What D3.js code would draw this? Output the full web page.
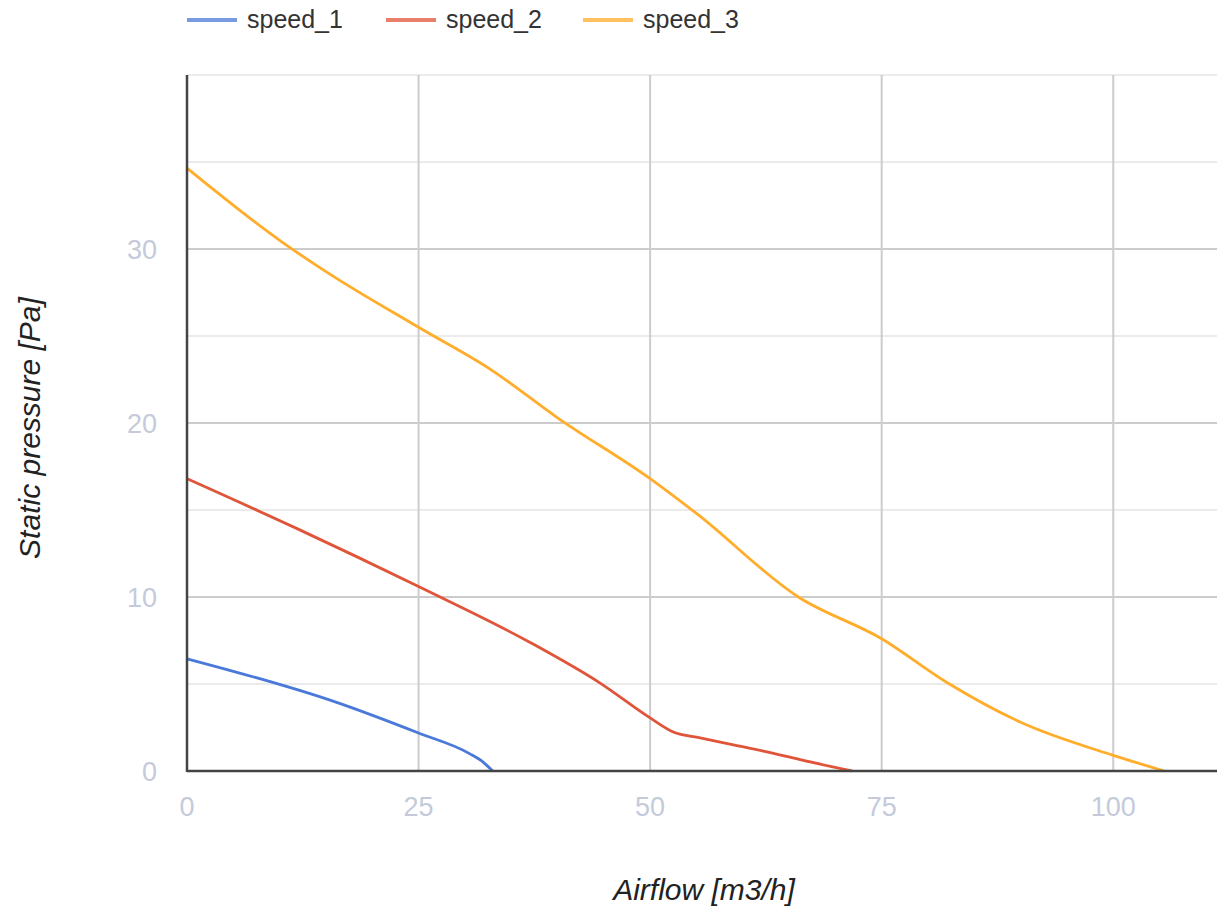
<!DOCTYPE html>
<html><head><meta charset="utf-8">
<script src="https://cdn.jsdelivr.net/npm/d3@7"></script>
<style>body{margin:0;background:#fff;font-family:Arial,"Liberation Sans",sans-serif;}</style>
</head><body><svg id="c" width="1221" height="915"></svg>
<script>
const seriesNames = ["speed_1","speed_2","speed_3"];
const seriesColors = ["#4a79d9","#e0553a","#ffad2b"];
const speed1 = [[0,6.45],[16,3.97],[25,2.18],[30.5,1.0],[32,0.5],[33,0]];
const speed2 = [[0,16.8],[12,13.9],[25,10.6],[37,7.4],[44.6,5.05],[50,3.05],[52.5,2.24],[55.4,1.9],[59,1.5],[62.6,1.1],[66.2,0.65],[71.8,0]];
const speed3 = [[0,34.65],[10,30.5],[15,28.7],[25,25.5],[33,23.0],[40,20.3],[50,16.8],[55,14.8],[66,10.0],[75,7.6],[82,5.1],[90,2.8],[100,0.9],[105.5,0]];
const xTicks = [0,25,50,75,100];
const yTicks = [0,10,20,30];
const yMinor = [5,15,25,35,40];
const xTitle = "Airflow [m3/h]";
const yTitle = "Static pressure [Pa]";

const svg = d3.select("#c");
const L=187,R=1217,T=75,B=771;
const x = d3.scaleLinear().domain([0,111.2]).range([L,R]);
const y = d3.scaleLinear().domain([0,40]).range([B,T]);

svg.append("g").selectAll("line").data(yMinor).join("line")
  .attr("x1",L).attr("x2",R).attr("y1",d=>y(d)).attr("y2",d=>y(d))
  .attr("stroke","#ebebeb").attr("stroke-width",2);
svg.append("g").selectAll("line").data(yTicks.filter(d=>d>0)).join("line")
  .attr("x1",L).attr("x2",R).attr("y1",d=>y(d)).attr("y2",d=>y(d))
  .attr("stroke","#cccccc").attr("stroke-width",2);
svg.append("g").selectAll("line").data(xTicks.filter(d=>d>0)).join("line")
  .attr("x1",d=>x(d)).attr("x2",d=>x(d)).attr("y1",T).attr("y2",B)
  .attr("stroke","#cccccc").attr("stroke-width",2);

svg.append("g").selectAll("text").data(xTicks).join("text")
  .attr("x",d=>x(d)).attr("y",816).attr("text-anchor","middle")
  .attr("font-size",27).attr("fill","#c5cadb").text(d=>d);
svg.append("g").selectAll("text").data(yTicks).join("text")
  .attr("x",157).attr("y",d=>y(d)+10).attr("text-anchor","end")
  .attr("font-size",27).attr("fill","#c5cadb").text(d=>d);

const data=[speed1,speed2,speed3];
const line=d3.line().x(d=>x(d[0])).y(d=>y(d[1])).curve(d3.curveMonotoneX);
svg.append("g").selectAll("path").data(data).join("path")
  .attr("d",line).attr("fill","none")
  .attr("stroke",(d,i)=>seriesColors[i]).attr("stroke-width",2.8);

svg.append("line").attr("x1",L).attr("x2",L).attr("y1",T).attr("y2",B+1)
  .attr("stroke","#444").attr("stroke-width",2.5);
svg.append("line").attr("x1",L).attr("x2",R).attr("y1",B).attr("y2",B)
  .attr("stroke","#444").attr("stroke-width",2.5);

const lx=[187,386,583];
const lg=svg.append("g").selectAll("g").data(seriesNames).join("g")
  .attr("transform",(d,i)=>`translate(${lx[i]},20)`);
lg.append("line").attr("x1",0).attr("x2",50).attr("y1",0).attr("y2",0)
  .attr("stroke",(d,i)=>seriesColors[i]).attr("stroke-width",4).attr("opacity",0.75);
lg.append("text").attr("x",60).attr("y",8).attr("font-size",25).attr("fill","#333").text(d=>d);

svg.append("text").attr("x",(L+R)/2+2).attr("y",900).attr("text-anchor","middle")
  .attr("font-size",30).attr("font-style","italic").attr("fill","#222").text(xTitle);
svg.append("text").attr("transform",`translate(40,${(T+B)/2+5}) rotate(-90)`).attr("text-anchor","middle")
  .attr("font-size",30).attr("font-style","italic").attr("fill","#222").text(yTitle);
</script></body></html>
